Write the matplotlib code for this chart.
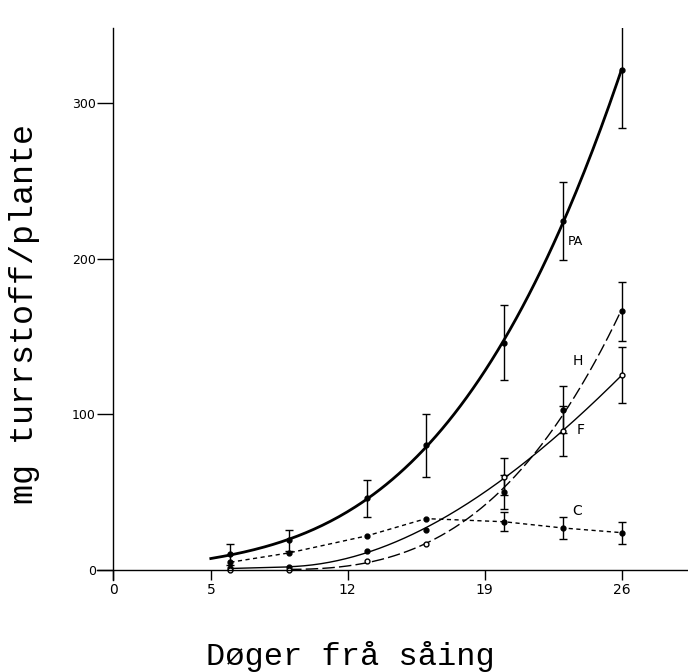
import numpy as np
import matplotlib
matplotlib.use("Agg")
import matplotlib.pyplot as plt

days = [6, 9, 13, 16, 20, 23, 26]

pa_vals = [10, 19, 46, 80, 146, 224, 321]
pa_err = [7, 7, 12, 20, 24, 25, 37]

h_vals = [0, 0, 6, 17, 50, 103, 166]
h_err = [0, 0, 0, 0, 11, 15, 19]

f_vals = [1, 2, 12, 26, 60, 89, 125]
f_err = [0, 0, 0, 0, 12, 16, 18]

c_vals = [5, 11, 22, 33, 31, 27, 24]
c_err = [0, 0, 0, 0, 6, 7, 7]

x_ticks = [0, 5, 12, 19, 26]
y_ticks = [0, 100, 200, 300]

fig = plt.figure(figsize=(6.88, 6.72), dpi=100)
ax = fig.add_axes([97/688, (672-580)/672, (688-97)/688, (580-28)/672])
ax.set_xlim(-0.82, 29.4)
ax.set_ylim(-6.4, 348)

for s in ["top", "right"]:
    ax.spines[s].set_visible(False)
ax.spines["left"].set_position(("data", 0))
ax.spines["bottom"].set_position(("data", 0))
for s in ["left", "bottom"]:
    ax.spines[s].set_linewidth(1.0)
    ax.spines[s].set_color("black")

ax.set_xticks(x_ticks)
ax.set_yticks(y_ticks)
ax.set_xticklabels([str(v) for v in x_ticks], fontsize=10, family="DejaVu Sans")
ax.set_yticklabels([str(v) for v in y_ticks], fontsize=9, family="DejaVu Sans")
ax.tick_params(axis="x", direction="out", length=7, width=1.0, pad=2)
ax.tick_params(axis="y", direction="out", length=11.5, width=1.0, pad=1)

d = np.array(days, dtype=float)

def fitcurve(x, y, x0, x1, deg=3):
    p = np.polyfit(x, y, deg)
    xs = np.linspace(x0, x1, 200)
    return xs, np.polyval(p, xs)

# PA
xs, ys = fitcurve(d, pa_vals, 5, 26)
ax.plot(xs, ys, color="black", lw=2.0)
ax.errorbar(days, pa_vals, yerr=pa_err, fmt="o", ms=3.5, color="black",
            ecolor="black", elinewidth=1.0, capsize=3, capthick=1.0)

# F
xs, ys = fitcurve(d[1:], f_vals[1:], 9, 26)
ax.plot([6, 9], [f_vals[0], f_vals[1]], color="black", lw=1.0)
ax.plot(xs, np.maximum(ys, 0), color="black", lw=1.0)
ax.errorbar(days[4:], f_vals[4:], yerr=f_err[4:], fmt="o", ms=3.5, mfc="white",
            mec="black", ecolor="black", elinewidth=1.0, capsize=3, capthick=1.0)
ax.plot(days[:4], f_vals[:4], "o", ms=3.5, color="black")

# H
xs, ys = fitcurve(d[1:], h_vals[1:], 9, 26)
ax.plot(xs, np.maximum(ys, 0), color="black", lw=1.0, dashes=(9, 3))
ax.errorbar(days[4:], h_vals[4:], yerr=h_err[4:], fmt="o", ms=3.5, color="black",
            ecolor="black", elinewidth=1.0, capsize=3, capthick=1.0)
ax.plot(days[:4], h_vals[:4], "o", ms=3.5, mfc="white", mec="black")

# C
ax.plot(days, c_vals, color="black", lw=1.0, dashes=(3, 2.5))
ax.errorbar(days[4:], c_vals[4:], yerr=c_err[4:], fmt="o", ms=3.5, color="black",
            ecolor="black", elinewidth=1.0, capsize=3, capthick=1.0)
ax.plot(days[:4], c_vals[:4], "o", ms=3.5, color="black")

ax.text(23.25, 211, "PA", fontsize=9, ha="left", va="center")
ax.text(23.5, 134, "H", fontsize=10, ha="left", va="center")
ax.text(23.7, 90, "F", fontsize=10, ha="left", va="center")
ax.text(23.5, 38, "C", fontsize=10, ha="left", va="center")

fig.text(0.509, 0.011, "Døger frå såing", fontsize=23, family="Liberation Mono",
         ha="center", va="baseline")
fig.text(0.035, 0.533, "mg turrstoff/plante", fontsize=24, family="Liberation Mono",
         ha="center", va="center", rotation=90)

fig.savefig("out.png", dpi=100)
